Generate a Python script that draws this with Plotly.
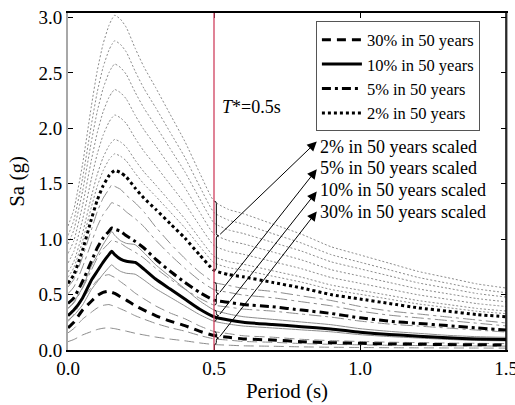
import plotly.graph_objects as go

# ---------------- data ----------------
period = [0, 0.02, 0.05, 0.08, 0.1, 0.12, 0.14, 0.15, 0.16, 0.18, 0.2, 0.23, 0.26,
          0.3, 0.35, 0.4, 0.45, 0.5, 0.55, 0.6, 0.7, 0.8, 0.9, 1.0, 1.1, 1.2, 1.3, 1.4, 1.5]

sa_30 = [0.20, 0.25, 0.36, 0.44, 0.49, 0.52, 0.53, 0.52, 0.51, 0.48, 0.45, 0.40, 0.36,
         0.31, 0.26, 0.22, 0.17, 0.13, 0.115, 0.10, 0.09, 0.075, 0.066, 0.060, 0.055,
         0.052, 0.049, 0.047, 0.045]
sa_10 = [0.31, 0.36, 0.47, 0.63, 0.71, 0.79, 0.86, 0.89, 0.86, 0.82, 0.80, 0.79, 0.73,
         0.64, 0.55, 0.46, 0.37, 0.30, 0.27, 0.25, 0.23, 0.21, 0.19, 0.16, 0.14,
         0.125, 0.11, 0.10, 0.095]
sa_5 = [0.42, 0.47, 0.62, 0.80, 0.92, 1.01, 1.07, 1.10, 1.09, 1.07, 1.03, 0.98, 0.92,
        0.82, 0.71, 0.61, 0.52, 0.45, 0.43, 0.41, 0.39, 0.36, 0.33, 0.29, 0.26,
        0.24, 0.22, 0.20, 0.18]
sa_2 = [0.60, 0.68, 0.90, 1.18, 1.35, 1.48, 1.57, 1.60, 1.62, 1.60, 1.56, 1.46, 1.37,
        1.27, 1.14, 1.01, 0.86, 0.72, 0.68, 0.66, 0.61, 0.56, 0.50, 0.46, 0.42,
        0.38, 0.35, 0.32, 0.30]

# peak values of the thin grey scaled spectra (each a scaled copy of its level's spectrum)
scaled_peaks_30 = [0.68, 0.41, 0.20]
scaled_peaks_10 = [1.07, 0.77]
scaled_peaks_5 = [1.49, 1.33, 0.99]
scaled_peaks_2 = [3.02, 2.79, 2.58, 2.35, 2.12, 1.90, 1.77]

level_names = ["30% in 50 years", "10% in 50 years", "5% in 50 years", "2% in 50 years"]
scaled_labels = ["2% in 50 years scaled", "5% in 50 years scaled",
                 "10% in 50 years scaled", "30% in 50 years scaled"]
label_y = [1.835, 1.645, 1.447, 1.248]
arrow_head_y = [1.88, 1.63, 1.43, 1.25]
t_star = 0.5
x_ticks = [0, 0.5, 1.0, 1.5]
y_ticks = [0, 0.5, 1.0, 1.5, 2.0, 2.5, 3.0]

# ---------------- styling ----------------
FONT = "Liberation Serif"
levels = [
    (level_names[0], sa_30, scaled_peaks_30, "9px,6px", "10px,5px"),
    (level_names[1], sa_10, scaled_peaks_10, "solid", "solid"),
    (level_names[2], sa_5, scaled_peaks_5, "9px,4px,3px,4px", "12px,4px,3px,4px"),
    (level_names[3], sa_2, scaled_peaks_2, "dot", "2px,2px"),
]

fig = go.Figure()

# grey scaled spectra
for name, mean, peaks, bdash, gdash in levels:
    mx = max(mean)
    for p in peaks:
        f = p / mx
        fig.add_trace(go.Scatter(
            x=period, y=[v * f for v in mean], mode="lines",
            line=dict(color="#8c8c8c", width=1, dash=gdash, shape="spline", smoothing=0.5),
            showlegend=False, hoverinfo="skip"))

# black mean spectra
for name, mean, peaks, bdash, gdash in levels:
    fig.add_trace(go.Scatter(
        x=period, y=mean, mode="lines", name=name,
        line=dict(color="black", width=3, dash=bdash, shape="spline", smoothing=0.5)))

# braces at T* spanning each level's spectra, with arrows to the labels
idx = period.index(t_star)
brace_order = [levels[3], levels[2], levels[1], levels[0]]
shapes = []
annotations = []
for k, (name, mean, peaks, bdash, gdash) in enumerate(brace_order):
    mx = max(mean)
    vals = [mean[idx]] + [mean[idx] * p / mx for p in peaks]
    hi, lo = max(vals), min(vals)
    mid = (hi + lo) / 2
    xe, xb, xn, h = 0.501, 0.508, 0.516, 0.02
    path = (f"M{xe},{hi} Q{xb},{hi} {xb},{hi - h} L{xb},{mid + h} "
            f"Q{xb},{mid} {xn},{mid} Q{xb},{mid} {xb},{mid - h} "
            f"L{xb},{lo + h} Q{xb},{lo} {xe},{lo}")
    shapes.append(dict(type="path", path=path, xref="x", yref="y",
                       line=dict(color="black", width=1)))
    annotations.append(dict(x=0.852, y=arrow_head_y[k], ax=xn, ay=mid,
                            xref="x", yref="y", axref="x", ayref="y",
                            text="", showarrow=True, arrowhead=2, arrowsize=1.9,
                            arrowwidth=1, arrowcolor="black", standoff=0, startstandoff=0))
    annotations.append(dict(x=0.855, y=label_y[k], xref="x", yref="y",
                            text=scaled_labels[k], showarrow=False, xanchor="left",
                            yanchor="middle", font=dict(family=FONT, size=18, color="black")))

# T* line and label
shapes.append(dict(type="line", x0=t_star, x1=t_star, y0=0, y1=1, xref="x", yref="paper",
                   line=dict(color="#d0405f", width=1.3), layer="above"))
shapes.append(dict(type="line", x0=1, x1=1, y0=0, y1=1, xref="paper", yref="paper",
                   line=dict(color="black", width=1.5)))
annotations.append(dict(x=0.52, y=2.19, xref="x", yref="y", showarrow=False,
                        xanchor="left", yanchor="middle",
                        text="<i>T</i>*=0.5s", font=dict(family=FONT, size=18, color="black")))

fig.update_layout(
    width=515, height=405,
    margin=dict(l=68, r=9, t=13, b=55, autoexpand=False),
    paper_bgcolor="white", plot_bgcolor="white",
    font=dict(family=FONT, size=18, color="black"),
    showlegend=True,
    legend=dict(x=0.566, y=0.975, xanchor="left", yanchor="top",
                bgcolor="white", bordercolor="#555555", borderwidth=1,
                font=dict(family=FONT, size=16.5, color="black"),
                tracegroupgap=0, itemwidth=40),
    shapes=shapes, annotations=annotations,
)
fig.update_xaxes(range=[0, 1.5], tickvals=x_ticks, tickformat=".1f",
                 ticks="inside", ticklen=5, tickcolor="black",
                 showline=True, linecolor="black", linewidth=1.5, mirror="allticks",
                 showgrid=False, zeroline=False, ticklabeloverflow="allow", automargin=False,
                 tickfont=dict(family=FONT, size=19),
                 title=dict(text="Period (s)", font=dict(family=FONT, size=21), standoff=6))
fig.update_yaxes(range=[0, 3.04], tickvals=y_ticks, tickformat=".1f",
                 ticks="inside", ticklen=5, tickcolor="black",
                 showline=True, linecolor="#a8a8a8", linewidth=2, mirror="allticks",
                 showgrid=False, zeroline=False, automargin=False,
                 tickfont=dict(family=FONT, size=19),
                 title=dict(text="Sa (g)", font=dict(family=FONT, size=21), standoff=8))

fig.write_html("out.html")
